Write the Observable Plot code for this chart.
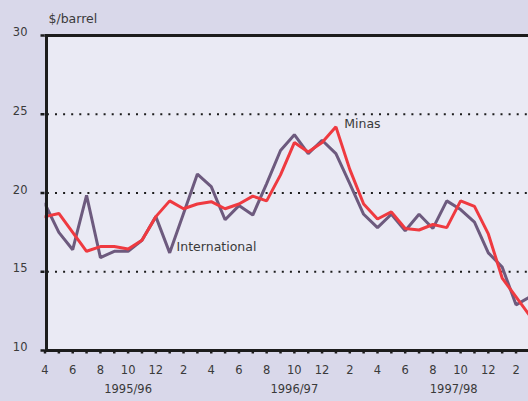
<!DOCTYPE html>
<html><head><meta charset="utf-8">
<script src="https://cdn.jsdelivr.net/npm/d3@7"></script>
<script src="https://cdn.jsdelivr.net/npm/@observablehq/plot@0.6"></script>
<style>
html,body{margin:0;padding:0;background:#d9d8ea;}
#chart svg{display:block;}
</style></head><body><div id="chart"></div>
<script>
// Month number of each observation, April 1995 – March 1998
const months = [4,5,6,7,8,9,10,11,12,1,2,3, 4,5,6,7,8,9,10,11,12,1,2,3, 4,5,6,7,8,9,10,11,12,1,2,3];
// $/barrel
const international = [19.3,17.5,16.4,19.85,15.9,16.3,16.3,17.0,18.5,16.2,18.7,21.2,
                       20.4,18.3,19.2,18.6,20.6,22.7,23.7,22.5,23.35,22.5,20.6,18.65,
                       17.8,18.65,17.6,18.65,17.75,19.5,18.95,18.15,16.2,15.3,12.9,13.4];
const minas = [18.5,18.7,17.5,16.3,16.6,16.6,16.45,17.0,18.5,19.5,19.0,19.3,
               19.45,19.0,19.3,19.8,19.5,21.15,23.2,22.6,23.2,24.2,21.5,19.3,
               18.35,18.8,17.75,17.65,18.0,17.8,19.5,19.15,17.4,14.6,13.4,12.2];
const yTicks = [10,15,20,25,30];
const gridValues = [15,20,25];
const fiscalYears = ["1995/96","1996/97","1997/98"];
const fiscalYearCenters = [6, 18, 29.5];
const seriesNames = ["International","Minas"];
const seriesLabelAt = [{i: 9.5, v: 16.6}, {i: 21.6, v: 24.35}];
const unitLabel = "$/barrel";

const idx = months.map((_, i) => i);
const intlData = idx.map(i => ({i, v: international[i]}));
const minasData = idx.map(i => ({i, v: minas[i]}));
const labelData = seriesNames.map((name, k) => ({name, ...seriesLabelAt[k]}));
const yearData = fiscalYears.map((name, k) => ({name, i: fiscalYearCenters[k]}));
const visibleTicks = idx.filter(i => i <= 34);

const ink = "#1c1c1c";
const textCol = "#3a3a3a";
const font = "DejaVu Sans, sans-serif";

const chart = Plot.plot({
  width: 528,
  height: 401,
  marginLeft: 44.5,
  marginRight: 0,
  marginTop: 35,
  marginBottom: 51,
  style: {background: "#d9d8ea", fontFamily: font, overflow: "hidden"},
  x: {domain: [0, 34.9]},
  y: {domain: [10, 30]},
  marks: [
    Plot.frame({fill: "#eaeaf4", stroke: "none"}),
    Plot.ruleY(gridValues, {stroke: ink, strokeWidth: 2, strokeDasharray: "2,6.1", strokeDashoffset: -2.4}),
    Plot.axisY({ticks: yTicks, tickSize: 4, tickFormat: () => "", stroke: ink, strokeWidth: 2.5, label: null}),
    Plot.axisY({ticks: yTicks, tickSize: 0, tickPadding: 17.5, dy: -3, fontSize: 11.5, fill: textCol, label: null}),
    Plot.axisX({ticks: visibleTicks, tickSize: 3.5, tickFormat: () => "", stroke: ink, strokeWidth: 2.5, label: null}),
    Plot.axisX({ticks: visibleTicks, tickSize: 0, tickPadding: 15, fontSize: 11.5, fill: textCol, label: null,
      tickFormat: i => months[i] % 2 === 0 ? String(months[i]) : ""}),
    Plot.line(intlData, {x: "i", y: "v", stroke: "#6d5a7e", strokeWidth: 3, strokeLinejoin: "miter", clip: true}),
    Plot.line(minasData, {x: "i", y: "v", stroke: "#ef3a40", strokeWidth: 3, strokeLinejoin: "miter", clip: true}),
    Plot.ruleY([30], {stroke: ink, strokeWidth: 3}),
    Plot.ruleY([10], {stroke: ink, strokeWidth: 3}),
    Plot.ruleX([0], {stroke: ink, strokeWidth: 3, dx: 1.5}),
    Plot.text(labelData, {x: "i", y: "v", text: "name", textAnchor: "start", fontSize: 12.5, fill: textCol}),
    Plot.text(yearData, {x: "i", text: "name", frameAnchor: "bottom", dy: 42, fontSize: 11.5, fill: textCol}),
    Plot.text([unitLabel], {frameAnchor: "top-left", dx: 3.5, dy: -21, textAnchor: "start", fontSize: 12.5, fill: textCol})
  ]
});
document.getElementById("chart").appendChild(chart);
</script>
</body></html>
